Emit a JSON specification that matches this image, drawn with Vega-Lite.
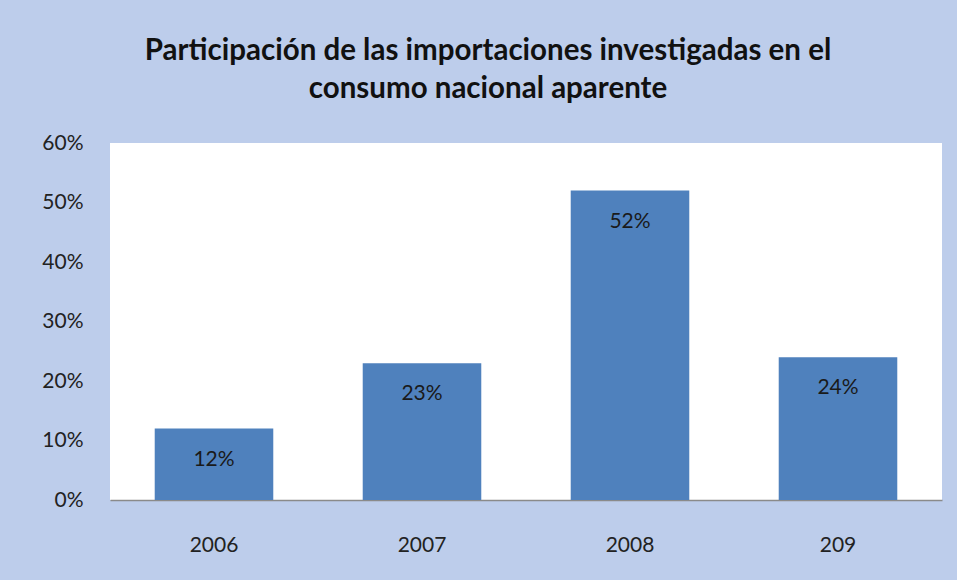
{
  "$schema": "https://vega.github.io/schema/vega-lite/v6.json",
  "width": 832,
  "height": 357,
  "autosize": {"type": "none"},
  "padding": {"left": 110, "top": 143, "right": 15, "bottom": 80},
  "background": "#bdcdeb",
  "view": {"fill": "white", "stroke": null},
  "title": {
    "text": ["Participación de las importaciones investigadas en el", "consumo nacional aparente"],
    "font": "Lato",
    "fontSize": 29.5,
    "fontWeight": "bold",
    "color": "#111111",
    "anchor": "middle",
    "dx": -38,
    "offset": 28,
    "lineHeight": 38
  },
  "data": {
    "values": [
      {"year": "2006", "share": 0.12},
      {"year": "2007", "share": 0.23},
      {"year": "2008", "share": 0.52},
      {"year": "209", "share": 0.24}
    ]
  },
  "encoding": {
    "x": {
      "field": "year",
      "type": "nominal",
      "sort": null,
      "scale": {"paddingInner": 0.43, "paddingOuter": 0.215},
      "axis": {
        "title": null,
        "labelAngle": 0,
        "labelFont": "Lato",
        "labelFontSize": 21,
        "labelColor": "#222222",
        "labelPadding": 34,
        "ticks": false,
        "tickSize": 0,
        "domainColor": "#8a8a8a",
        "domainWidth": 1.5,
        "grid": false
      }
    },
    "y": {
      "field": "share",
      "type": "quantitative",
      "scale": {"domain": [0, 0.6]},
      "axis": {
        "title": null,
        "format": ".0%",
        "values": [0, 0.1, 0.2, 0.3, 0.4, 0.5, 0.6],
        "labelFont": "Lato",
        "labelFontSize": 21,
        "labelColor": "#222222",
        "labelPadding": 27,
        "ticks": false,
        "tickSize": 0,
        "domain": false,
        "grid": false
      }
    }
  },
  "layer": [
    {"mark": {"type": "bar", "color": "#4f81bd"}},
    {
      "mark": {"type": "text", "baseline": "middle", "dy": 31, "fontSize": 21, "font": "Lato", "color": "#1a1a1a"},
      "encoding": {"text": {"field": "share", "type": "quantitative", "format": ".0%"}}
    }
  ]
}
